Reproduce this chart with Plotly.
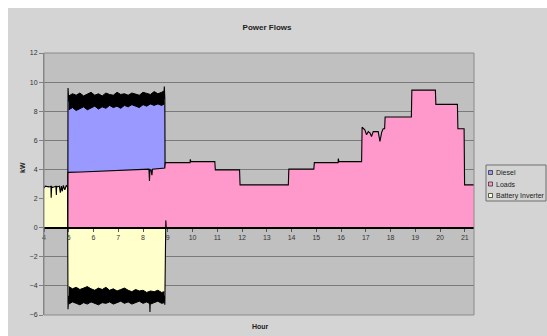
import plotly.graph_objects as go

# ---- data (kW vs hour of day) ----
# Battery inverter: + discharging, - charging
batt_hour = [4.00, 4.04, 4.20, 4.28, 4.29, 4.31, 4.33, 4.48, 4.50, 4.51, 4.53, 4.62, 4.66,
             4.70, 4.74, 4.78, 4.84, 4.90, 4.95, 4.97, 5.00, 5.50, 6.00, 6.50, 7.00, 7.50,
             8.00, 8.26, 8.28, 8.30, 8.50, 8.70, 8.86, 8.88, 8.90, 8.92, 8.94, 21.37]
batt_kw = [2.70, 2.85, 2.80, 2.85, 2.05, 2.85, 2.75, 2.85, 2.25, 2.85, 2.80, 2.85, 2.40,
           2.85, 2.50, 2.90, 2.60, 2.90, 2.80, -5.60, -4.70, -4.75, -4.75, -4.75, -4.75, -4.75,
           -4.75, -4.75, -5.80, -4.75, -4.75, -4.70, -4.70, -5.30, 0.00, 0.50, 0.00, 0.00]

# Diesel generator output
dsl_hour = [4.96, 4.97, 5.00, 5.50, 6.00, 6.50, 7.00, 7.50, 8.00, 8.50, 8.84, 8.86, 8.88, 8.90]
dsl_kw = [0.00, 9.60, 8.70, 8.70, 8.75, 8.75, 8.80, 8.80, 8.85, 8.85, 8.90, 9.70, 8.90, 0.00]

# Ragged upper/lower edges of the fast-switching bands (diesel and charging)
band_hour = [5.00, 5.15, 5.30, 5.45, 5.60, 5.75, 5.90, 6.05, 6.20, 6.35, 6.50, 6.65,
             6.80, 6.95, 7.10, 7.25, 7.40, 7.55, 7.70, 7.85, 8.00, 8.15, 8.30, 8.45,
             8.60, 8.75, 8.86]
dsl_hi = [9.05, 9.20, 9.10, 9.25, 9.05, 9.15, 9.30, 9.10, 9.20, 9.05, 9.25, 9.15,
          9.10, 9.30, 9.15, 9.20, 9.10, 9.25, 9.20, 9.10, 9.30, 9.20, 9.15, 9.35,
          9.20, 9.30, 9.40]
dsl_lo = [8.10, 8.25, 8.05, 8.20, 8.30, 8.10, 8.25, 8.35, 8.15, 8.30, 8.20, 8.40,
          8.25, 8.35, 8.20, 8.40, 8.30, 8.45, 8.35, 8.25, 8.45, 8.35, 8.50, 8.40,
          8.50, 8.40, 8.50]
batt_hi = [-4.05, -4.20, -4.10, -4.25, -4.15, -4.05, -4.20, -4.30, -4.15, -4.25, -4.10, -4.30,
           -4.20, -4.35, -4.25, -4.15, -4.30, -4.40, -4.25, -4.35, -4.30, -4.45, -4.35, -4.40,
           -4.30, -4.45, -4.40]
batt_lo = [-5.25, -5.10, -5.20, -5.30, -5.15, -5.25, -5.10, -5.20, -5.30, -5.15, -5.20, -5.10,
           -5.25, -5.15, -5.05, -5.20, -5.10, -5.25, -5.15, -5.05, -5.20, -5.10, -5.25, -5.15,
           -5.05, -5.20, -5.15]

# Site loads
load_hour = [4.96, 4.97, 5.50, 6.00, 6.50, 7.00, 7.50, 8.00, 8.24, 8.26, 8.28, 8.32, 8.36,
             8.38, 8.60, 8.88, 8.90, 9.90, 9.91, 9.93, 10.90, 10.92, 11.90, 11.92, 13.87,
             13.89, 14.90, 14.92, 15.88, 15.89, 15.91, 16.83, 16.85, 16.96, 17.03, 17.10,
             17.17, 17.23, 17.30, 17.50, 17.57, 17.64, 17.70, 17.76, 17.78, 18.84, 18.86,
             19.81, 19.83, 20.70, 20.72, 20.97, 20.99, 21.37]
load_kw = [0.00, 3.80, 3.82, 3.85, 3.88, 3.92, 3.96, 4.00, 4.02, 3.20, 3.98, 3.98, 3.60,
           4.02, 4.05, 4.10, 4.47, 4.47, 4.70, 4.54, 4.54, 3.97, 3.97, 2.94, 2.94,
           4.02, 4.02, 4.47, 4.47, 4.75, 4.54, 4.54, 6.90, 6.72, 6.38, 6.60,
           6.50, 6.26, 6.60, 6.60, 5.92, 6.55, 6.80, 6.80, 7.60, 7.60, 9.45,
           9.45, 8.47, 8.47, 6.80, 6.80, 2.94, 2.94]

hour_ticks = list(range(4, 22))
kw_ticks = list(range(-6, 13, 2))

series_names = ["Diesel", "Loads", "Battery Inverter"]
series_colors = ["#9999FF", "#FF99CC", "#FFFFCC"]

assert len(batt_hour) == len(batt_kw)
assert len(dsl_hour) == len(dsl_kw)
assert len(load_hour) == len(load_kw)
assert len(band_hour) == len(dsl_hi) == len(dsl_lo) == len(batt_hi) == len(batt_lo)

# ---- page geometry ----
W, H = 547, 336
ML, MR, MT, MB = 44, 73, 53, 21
PW, PH = W - ML - MR, H - MT - MB


def fx(xpix):
    return (xpix - ML) / PW


def fy(ypix):
    return (H - MB - ypix) / PH


FONT = "Liberation Sans, Arial, sans-serif"
EDGE = dict(color="#000000", width=1.1)

fig = go.Figure()

# Diesel area (back)
fig.add_trace(go.Scatter(x=dsl_hour, y=dsl_kw, name=series_names[0], mode="lines",
                         fill="tozeroy", fillcolor=series_colors[0], line=EDGE,
                         showlegend=False, hoverinfo="skip"))
fig.add_trace(go.Scatter(x=band_hour, y=dsl_lo, mode="lines", line=dict(width=1, color="black"),
                         showlegend=False, hoverinfo="skip"))
fig.add_trace(go.Scatter(x=band_hour, y=dsl_hi, mode="lines", line=dict(width=1, color="black"),
                         fill="tonexty", fillcolor="black", showlegend=False, hoverinfo="skip"))
# Loads
fig.add_trace(go.Scatter(x=load_hour, y=load_kw, name=series_names[1], mode="lines",
                         fill="tozeroy", fillcolor=series_colors[1], line=EDGE,
                         showlegend=False, hoverinfo="skip"))
# Battery inverter (front)
fig.add_trace(go.Scatter(x=batt_hour, y=batt_kw, name=series_names[2], mode="lines",
                         fill="tozeroy", fillcolor=series_colors[2], line=EDGE,
                         showlegend=False, hoverinfo="skip"))
fig.add_trace(go.Scatter(x=band_hour, y=batt_lo, mode="lines", line=dict(width=1, color="black"),
                         showlegend=False, hoverinfo="skip"))
fig.add_trace(go.Scatter(x=band_hour, y=batt_hi, mode="lines", line=dict(width=1, color="black"),
                         fill="tonexty", fillcolor="black", showlegend=False, hoverinfo="skip"))

shapes = [
    # white strips along the top and left page edges
    dict(type="rect", xref="paper", yref="paper", x0=fx(0), x1=fx(W), y0=fy(8), y1=fy(0),
         fillcolor="white", line=dict(width=0), layer="above"),
    dict(type="rect", xref="paper", yref="paper", x0=fx(0), x1=fx(8), y0=fy(H), y1=fy(0),
         fillcolor="white", line=dict(width=0), layer="above"),
    # plot area frame
    dict(type="rect", xref="paper", yref="paper", x0=0, x1=1, y0=0, y1=1,
         line=dict(color="#8A8A8A", width=1), layer="above"),
]

# legend box drawn by hand
LX0, LY0, LX1, LY1 = 486, 165, 546, 201
shapes.append(dict(type="rect", xref="paper", yref="paper", x0=fx(LX0), x1=fx(LX1),
                   y0=fy(LY1), y1=fy(LY0), fillcolor="#D4D4D4",
                   line=dict(color="#6E6E6E", width=1), layer="above"))
annotations = []
row_y = [172.5, 184, 195.5]
for name, col, ry in zip(series_names, series_colors, row_y):
    shapes.append(dict(type="rect", xref="paper", yref="paper", x0=fx(488.5), x1=fx(492.5),
                       y0=fy(ry + 2), y1=fy(ry - 2), fillcolor=col,
                       line=dict(color="#333333", width=0.8), layer="above"))
    annotations.append(dict(xref="paper", yref="paper", x=fx(493.5), y=fy(ry), text=name,
                            showarrow=False, xanchor="left", yanchor="middle",
                            font=dict(family=FONT, size=7, color="#222222")))

annotations.append(dict(xref="paper", yref="paper", x=fx(22), y=fy(168), text="<b>kW</b>",
                        textangle=-90, showarrow=False, xanchor="center", yanchor="middle",
                        font=dict(family=FONT, size=7, color="#222222")))
annotations.append(dict(xref="paper", yref="paper", x=fx(260), y=fy(326), text="<b>Hour</b>",
                        showarrow=False, xanchor="center", yanchor="middle",
                        font=dict(family=FONT, size=7, color="#222222")))

fig.update_layout(
    width=W, height=H,
    margin=dict(l=ML, r=MR, t=MT, b=MB, autoexpand=False),
    paper_bgcolor="#D4D4D4",
    plot_bgcolor="#C0C0C0",
    title=dict(text="<b>Power Flows</b>", x=267 / W, y=1 - 27 / H, xanchor="center",
               yanchor="middle", font=dict(family=FONT, size=8, color="#222222")),
    showlegend=False,
    shapes=shapes,
    annotations=annotations,
    xaxis=dict(range=[4, 21.37], tickvals=hour_ticks, ticktext=[str(h) for h in hour_ticks],
               showgrid=False, zeroline=False, anchor="free", position=1 / 3,
               showline=True, linecolor="black", linewidth=2,
               ticks="outside", ticklen=3, tickcolor="#555555",
               tickfont=dict(family=FONT, size=7, color="#333333")),
    yaxis=dict(range=[-6, 12], tickvals=kw_ticks, showgrid=True, gridcolor="#7A7A7A",
               gridwidth=1, zeroline=False, showline=True, linecolor="#808080",
               ticks="outside", ticklen=4, tickcolor="#808080",
               tickfont=dict(family=FONT, size=7, color="#333333")),
)

fig.write_html("out.html")
